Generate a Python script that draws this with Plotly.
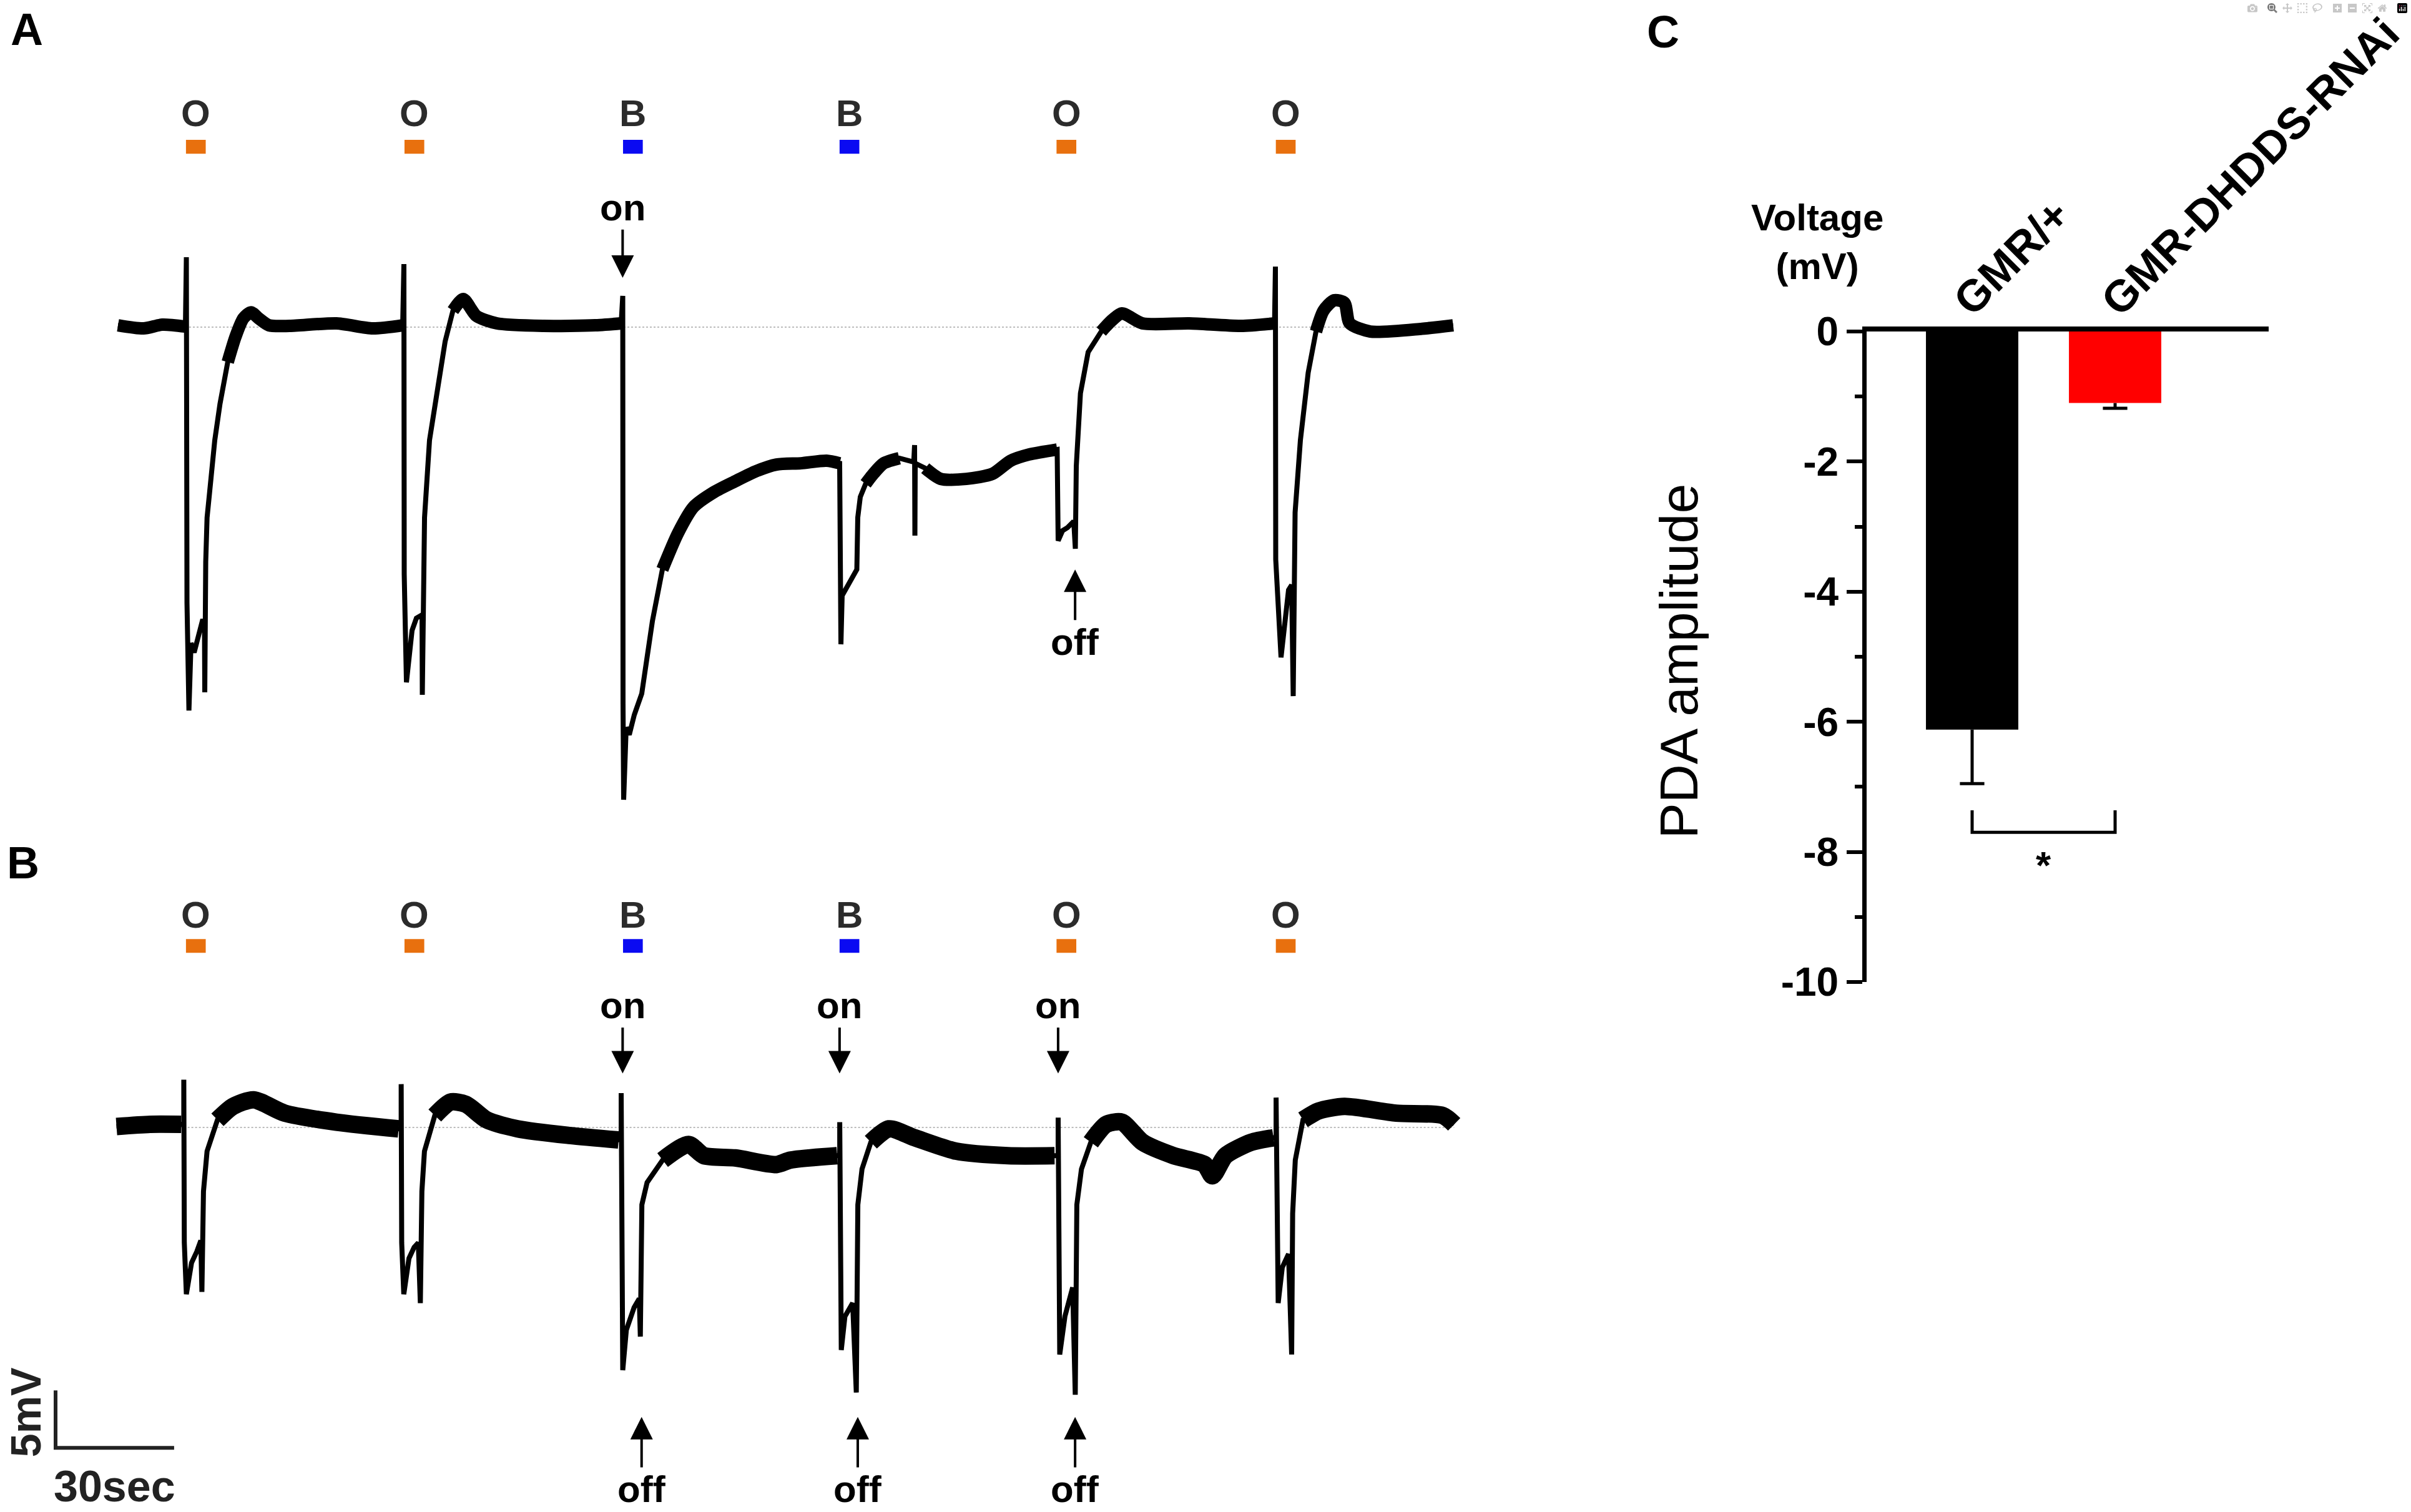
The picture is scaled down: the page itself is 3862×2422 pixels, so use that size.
import pandas as pd
import plotly.graph_objects as go

# recording A: time (s) / voltage (mV)
trace_a_t = [0.0, 6.48, 11.22, 17.06, 17.30, 17.46, 17.95, 18.48, 19.27, 20.06, 21.33, 21.88,
             21.96, 22.20, 22.54, 23.19, 24.49, 25.81, 27.77, 29.75, 31.71, 33.65, 35.64, 38.23,
             43.44, 55.29, 64.45, 72.04,
             72.35, 72.43, 72.99, 73.62, 74.41, 75.51, 76.46, 76.94, 77.01, 77.57, 78.83, 80.84,
             82.78, 84.76, 87.36, 90.68, 95.89, 107.68, 120.79, 127.33,
             127.73, 127.80, 127.96, 128.60, 129.38, 130.65, 132.54, 135.23, 137.76, 141.71, 145.66,
             150.87, 156.16, 161.39, 166.64, 172.83, 179.31, 182.62,
             182.94, 183.25, 185.26, 186.97, 187.20, 187.84, 189.19, 191.15, 193.78, 197.71, 201.37,
             201.58, 201.66, 201.74, 204.27, 208.18, 214.69, 221.28, 225.86, 230.46, 237.66,
             237.91, 239.02, 240.28, 241.86, 242.26, 242.50, 243.55, 245.50, 248.82, 251.34, 254.03,
             259.24, 271.09, 284.20, 292.67,
             292.89, 292.97, 294.31, 295.26, 296.21, 297.00, 297.39, 297.87, 299.21, 301.18, 303.16,
             305.06, 307.74, 310.36, 311.69, 316.90, 330.02, 337.87]
trace_a_v = [0.16, -0.11, 0.22, 0.05, 6.09, -24.02, -33.37, -27.5, -28.32, -27.23, -25.6, -25.6,
             -31.79, -20.43, -16.58, -14.35, -9.84, -6.68, -3.04, -0.82, 0.76, 1.30, 0.76, 0.16,
             0.11, 0.33, -0.11, 0.16,
             5.49, -21.52, -30.92, -29.13, -26.41, -25.33, -25.05, -25.05, -32.01, -16.58, -9.84, -5.33,
             -1.25, 1.44, 2.45, 0.98, 0.33, 0.11, 0.16, 0.33,
             2.72, -32.83, -41.14, -34.84, -35.49, -33.75, -31.90, -25.60, -21.09, -17.93, -15.65,
             -14.35, -13.42, -12.55, -11.96, -11.85, -11.63, -11.85,
             -27.61, -23.37, -22.01, -21.09, -16.58, -14.78, -13.64, -12.77, -11.85, -11.41, -11.74,
             -10.27, -18.15, -11.85, -12.28, -13.21, -13.21, -12.77, -11.63, -11.09, -10.65,
             -18.59, -17.72, -17.45, -16.90, -19.29, -12.07, -5.76, -2.17, -0.38, 0.54, 1.20,
             0.33, 0.33, 0.11, 0.33,
             5.27, -20.22, -28.75, -25.60, -22.88, -22.45, -32.12, -16.14, -9.84, -3.97, -0.38,
             1.44, 2.34, 2.12, 0.33, -0.38, -0.14, 0.16]

# recording B
trace_b_t = [-0.38, 8.14, 15.99, 16.65, 16.65, 16.78, 17.30, 18.61, 19.92, 20.96, 21.23, 21.63,
             22.54, 25.17, 29.08, 34.33, 42.20, 55.29, 71.01,
             71.66, 71.66, 71.79, 72.32, 73.63, 74.94, 75.99, 76.51, 76.90, 77.55, 80.17, 84.11,
             88.04, 93.27, 101.14, 114.23, 126.68,
             127.33, 127.33, 127.47, 127.73, 128.64, 130.60, 131.91, 132.18, 132.57, 133.89, 137.82,
             144.36, 148.29, 156.15, 166.64, 170.19, 181.99,
             182.64, 182.64, 182.77, 183.03, 183.95, 185.91, 186.83, 187.22, 188.28, 190.51, 195.09,
             201.63, 212.12, 225.21, 237.0,
             237.91, 237.91, 238.06, 238.31, 239.62, 241.58, 242.24, 242.64, 243.81, 246.18, 250.09,
             254.03, 259.27, 267.12, 274.99, 276.95, 280.24, 286.78, 292.42,
             293.06, 293.06, 293.21, 293.59, 294.63, 296.21, 297.00, 297.25, 297.92, 299.87, 303.81,
             310.36, 323.46, 335.24, 338.13]
trace_b_v = [0.08, 0.27, 0.27, 0.27, 4.16, -10.04, -14.52, -11.79, -10.82, -9.85, -14.32, -5.57,
             -2.07, 0.66, 1.83, 2.41, 1.24, 0.46, -0.12,
             -0.12, 3.77, -10.04, -14.52, -11.40, -10.43, -10.04, -15.29, -5.57, -2.07, 1.04, 2.21,
             2.02, 0.66, -0.12, -0.70, -1.09,
             -1.09, 2.99, -18.41, -21.13, -17.63, -15.68, -14.90, -18.21, -6.73, -4.79, -2.84,
             -1.48, -2.46, -2.65, -3.23, -2.84, -2.46,
             -2.46, 0.46, -15.10, -19.38, -16.46, -15.29, -23.08, -6.73, -3.62, -1.29, -0.12,
             -0.90, -2.07, -2.46, -2.46,
             -2.46, 0.85, -15.29, -19.77, -16.46, -13.93, -23.27, -6.73, -3.62, -1.29, 0.27,
             0.46, -1.29, -2.46, -3.23, -4.21, -2.46, -1.29, -0.90,
             -0.90, 2.60, -9.85, -15.29, -12.18, -11.02, -19.77, -7.51, -2.84, 0.66, 1.43,
             1.83, 1.24, 1.04, 0.27]

# stretches where the recording is a noisy band rather than a fast transient
noisy_a = [(0, 17.1), (27.5, 72.1), (84, 127.4), (137, 182.7), (189, 201.3), (201.9, 237.7),
           (248, 292.7), (303, 338)]
noisy_b = [(-1, 16.6), (24, 71.6), (79, 127.0), (135, 182.5), (189, 237.5), (245, 293.0), (299, 339)]

# light stimuli
stim_labels = ['O', 'O', 'B', 'B', 'O', 'O']
stim_on = [17.2, 72.5, 127.8, 182.6, 237.5, 293.0]
stim_len = 5.0

# on / off arrows (s)
a_on = [127.7]
a_off = [242.2]
b_on = [127.7, 182.6, 237.9]
b_off = [132.5, 187.2, 242.2]

# scale bar
bar_sec = 30
bar_mv = 5

# panel C
genotypes = ['GMR/+', 'GMR-DHDDS-RNAi']
pda_mean = [-6.12, -1.10]
pda_sem = [0.83, 0.08]
bar_colors = ['black', '#ff0000']
y_ticks = [0, -2, -4, -6, -8, -10]
y_minor = [-1, -3, -5, -7, -9]

FONT = 'Liberation Sans, Arial, sans-serif'
stim_color = {'O': '#e8700e', 'B': '#0a0af2'}

fig = go.Figure()


def draw_recording(t, v, bands, xa, ya, band_width):
    df = pd.DataFrame({'t': t, 'v': v})
    fig.add_trace(go.Scatter(x=[df.t.iloc[0], df.t.iloc[-1]], y=[0, 0], mode='lines',
                             line=dict(color='#bcbcbc', width=2, dash='dot'),
                             xaxis=xa, yaxis=ya, hoverinfo='skip'))
    fig.add_trace(go.Scatter(x=df.t, y=df.v, mode='lines', line=dict(color='black', width=8),
                             xaxis=xa, yaxis=ya, hoverinfo='skip'))
    noisy = pd.Series(False, index=df.index)
    for lo, hi in bands:
        noisy |= df.t.between(lo, hi)
    fig.add_trace(go.Scatter(x=df.t, y=df.v.where(noisy), mode='lines', connectgaps=False,
                             line=dict(color='black', width=band_width, shape='spline', smoothing=0.7),
                             xaxis=xa, yaxis=ya, hoverinfo='skip'))


def draw_stimuli(xa, ya, label_v, bar_lo, bar_hi):
    for lab, on in zip(stim_labels, stim_on):
        fig.add_shape(type='rect', xref=xa, yref=ya, x0=on, x1=on + stim_len, y0=bar_lo, y1=bar_hi,
                      fillcolor=stim_color[lab], line_width=0)
        fig.add_annotation(x=on + stim_len / 2, y=label_v, xref=xa, yref=ya, text=lab, showarrow=False,
                           xanchor='center', yanchor='middle',
                           font=dict(family=FONT, size=60, color='#2b2b2b', weight='bold'))


def draw_arrows(xa, ya, times, text, text_v, tip_v):
    for t in times:
        fig.add_annotation(x=t, y=tip_v, ax=t, ay=text_v, xref=xa, yref=ya, axref=xa, ayref=ya,
                           text=text, showarrow=True, arrowhead=2, arrowsize=1.8, arrowwidth=4,
                           arrowcolor='black', standoff=0,
                           font=dict(family=FONT, size=60, color='black', weight='bold'))


draw_recording(trace_a_t, trace_a_v, noisy_a, 'x', 'y', 20)
draw_recording(trace_b_t, trace_b_v, noisy_b, 'x2', 'y2', 28)
draw_stimuli('x', 'y', 18.6, 15.1, 16.3)
draw_stimuli('x2', 'y2', 18.5, 15.2, 16.4)
draw_arrows('x', 'y', a_on, 'on', 10.4, 4.3)
draw_arrows('x', 'y', a_off, 'off', -27.4, -21.1)
draw_arrows('x2', 'y2', b_on, 'on', 10.6, 4.7)
draw_arrows('x2', 'y2', b_off, 'off', -31.5, -25.2)

# scale bar in panel B
sb_t, sb_v = -15.8, -27.9
fig.add_trace(go.Scatter(x=[sb_t, sb_t, sb_t + bar_sec], y=[sb_v + bar_mv, sb_v, sb_v], mode='lines',
                         line=dict(color='#222222', width=6), xaxis='x2', yaxis='y2', hoverinfo='skip'))
fig.add_annotation(x=sb_t - 7.6, y=sb_v + bar_mv / 2 + 0.6, xref='x2', yref='y2', text=f'{bar_mv}mV',
                   textangle=-90, showarrow=False, xanchor='center', yanchor='middle',
                   font=dict(family=FONT, size=68, color='#222222', weight='bold'))
fig.add_annotation(x=sb_t + bar_sec / 2, y=sb_v - 3.35, xref='x2', yref='y2', text=f'{bar_sec}sec',
                   showarrow=False, xanchor='center', yanchor='middle',
                   font=dict(family=FONT, size=70, color='#222222', weight='bold'))

# panel C bars
xs = list(range(len(genotypes)))
fig.add_trace(go.Bar(x=xs, y=pda_mean, width=0.646, marker=dict(color=bar_colors, line_width=0),
                     xaxis='x3', yaxis='y3', hoverinfo='skip'))
stem_x, stem_y = [], []
for x, m, s in zip(xs, pda_mean, pda_sem):
    stem_x += [x, x, None]
    stem_y += [m, m - s, None]
fig.add_trace(go.Scatter(x=stem_x, y=stem_y, mode='lines', line=dict(color='black', width=5),
                         xaxis='x3', yaxis='y3', hoverinfo='skip'))
fig.add_trace(go.Scatter(x=xs, y=[m - s for m, s in zip(pda_mean, pda_sem)], mode='markers',
                         marker=dict(symbol='line-ew', size=28, line=dict(color='black', width=5)),
                         xaxis='x3', yaxis='y3', hoverinfo='skip'))
# significance bracket
fig.add_trace(go.Scatter(x=[xs[0], xs[0], xs[1], xs[1]], y=[-7.36, -7.7, -7.7, -7.36], mode='lines',
                         line=dict(color='black', width=5), xaxis='x3', yaxis='y3', hoverinfo='skip'))
fig.add_annotation(x=0.5, y=-8.2, xref='x3', yref='y3', text='*', showarrow=False,
                   xanchor='center', yanchor='middle',
                   font=dict(family=FONT, size=62, color='black', weight='bold'))

# genotype labels
for txt, px, py in [(genotypes[0], 0.8345, 0.8299), (genotypes[1], 0.9334, 0.8898)]:
    fig.add_annotation(x=px, y=py, xref='paper', yref='paper', text=txt, textangle=-45,
                       showarrow=False, xanchor='center', yanchor='middle',
                       font=dict(family=FONT, size=71, color='black', weight='bold'))

fig.add_annotation(x=0.7537, y=0.840, xref='paper', yref='paper', text='Voltage<br>(mV)',
                   showarrow=False, xanchor='center', yanchor='middle',
                   font=dict(family=FONT, size=60, color='black', weight='bold'))
fig.add_annotation(x=0.6962, y=0.5628, xref='paper', yref='paper', text='PDA amplitude',
                   textangle=-90, showarrow=False, xanchor='center', yanchor='middle',
                   font=dict(family=FONT, size=86, color='black'))

# panel letters
for txt, px, py in [('A', 0.0111, 0.9806), ('B', 0.0096, 0.4294), ('C', 0.6898, 0.9789)]:
    fig.add_annotation(x=px, y=py, xref='paper', yref='paper', text=txt, showarrow=False,
                       xanchor='center', yanchor='middle',
                       font=dict(family=FONT, size=72, color='black', weight='bold'))

hidden = dict(visible=False, fixedrange=True)
fig.update_layout(
    width=3862, height=2422, margin=dict(l=0, r=0, t=0, b=0, autoexpand=False),
    paper_bgcolor='white', plot_bgcolor='white', showlegend=False,
    xaxis=dict(domain=[0, 0.62144], range=[-29.86, 349.29], anchor='y', **hidden),
    yaxis=dict(domain=[0.450867, 1], range=[-43.80, 28.48], anchor='x', **hidden),
    xaxis2=dict(domain=[0, 0.62144], range=[-29.86, 349.29], anchor='y2', **hidden),
    yaxis2=dict(domain=[0, 0.450867], range=[-33.48, 25.87], anchor='x2', **hidden),
    xaxis3=dict(domain=[0.77421, 0.94096], range=[-0.738, 2.074], anchor='y3', side='top',
                showline=True, linewidth=8, linecolor='black', showticklabels=False,
                ticks='', showgrid=False, zeroline=False, automargin=False),
    yaxis3=dict(domain=[0.35054, 0.78076], range=[-10, 0], anchor='x3', automargin=False,
                showline=True, linewidth=7, linecolor='black', showgrid=False, zeroline=False,
                ticks='outside', ticklen=25, tickwidth=6, tickcolor='black',
                tickmode='array', tickvals=y_ticks, ticktext=[str(v) for v in y_ticks],
                tickfont=dict(family=FONT, size=64, color='black', weight='bold'),
                minor=dict(tickmode='array', tickvals=y_minor, ticks='outside', ticklen=12,
                           tickwidth=6, tickcolor='black')),
)

fig.write_html('out.html', post_script="document.body.style.margin='0px';")
